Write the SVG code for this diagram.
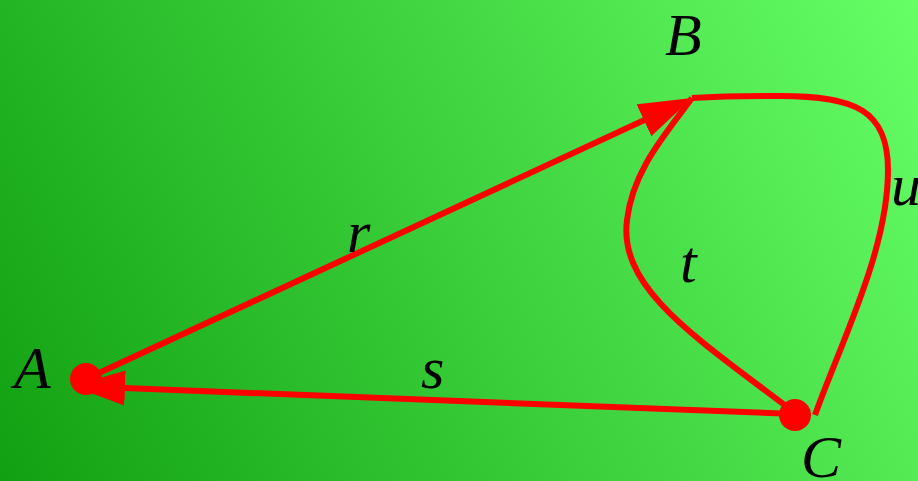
<svg xmlns="http://www.w3.org/2000/svg" width="918" height="481" viewBox="0 0 918 481">
<defs>
<linearGradient id="bg" gradientUnits="userSpaceOnUse" x1="0" y1="481" x2="918" y2="0">
<stop offset="0" stop-color="#11a011"/>
<stop offset="1" stop-color="#66ff66"/>
</linearGradient>
<marker id="arr" markerUnits="userSpaceOnUse" markerWidth="54" markerHeight="36" refX="38" refY="17.5" orient="auto" viewBox="0 0 54 36">
<path d="M0,0 L53,17.5 L0,35 z" fill="#ff0000"/>
</marker>
<style>
.e{fill:none;stroke:#ff0000;stroke-width:6}
.n{fill:#ff0000}
.l{font-family:"Liberation Serif","Times New Roman",serif;font-style:italic;font-size:60px;fill:#000}
</style>
</defs>
<rect width="918" height="481" fill="url(#bg)"/>
<g id="connectors">
<path id="r" class="e" d="M86,379 L678.4,104.3" marker-end="url(#arr)"/>
<path id="s" class="e" d="M795,414 L87,386.6" marker-end="url(#arr)"/>
<path id="t" class="e" d="M795,413 C700,340 618,290 627,220 C633,170 665,135 692,98"/>
<path id="u" class="e" d="M815,415 C842,340 888,250 888,170 C888,110 855,96 780,96 C740,96 710,97 692,98"/>
<text class="l" x="347" y="252">r</text>
<text class="l" x="421" y="388">s</text>
<text class="l" x="680" y="282">t</text>
<text class="l" x="891" y="205">u</text>
</g>
<g id="A">
<circle class="n" cx="86" cy="379" r="16"/>
<text class="l" x="14" y="388">A</text>
</g>
<g id="B">
<text class="l" x="665" y="55">B</text>
</g>
<g id="C">
<circle class="n" cx="795" cy="415" r="16"/>
<text class="l" x="801" y="477">C</text>
</g>
</svg>
